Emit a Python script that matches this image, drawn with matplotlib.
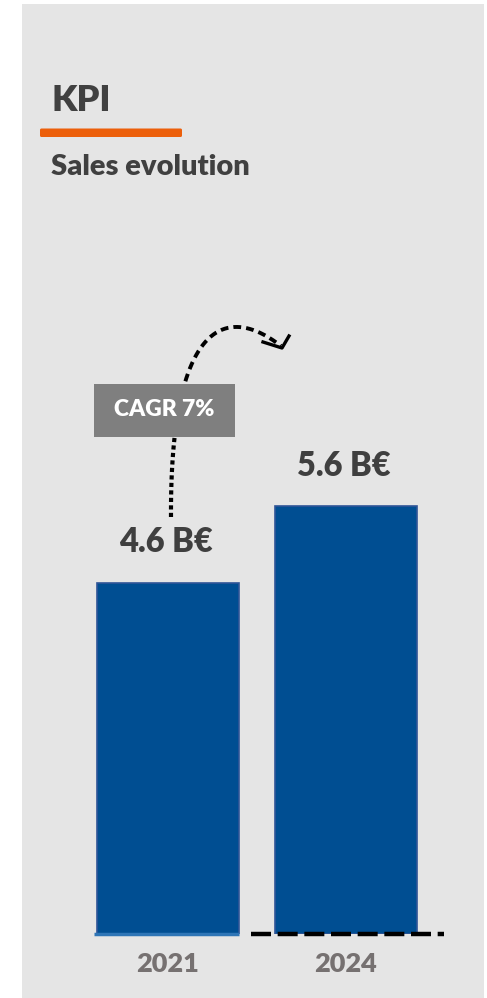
import numpy as np
import matplotlib.pyplot as plt
from matplotlib.patches import Rectangle, FancyBboxPatch

plt.rcParams['font.family'] = ['Lato', 'DejaVu Sans']
GRAS = 'heavy'

# Données
annees = ["2021", "2024"]
ventes = [4.6, 5.6]          # en milliards d'euros
cagr = 7                     # en %

W, H = 487, 998
fig = plt.figure(figsize=(W / 100, H / 100), dpi=100, facecolor='white')

# Calque de décor en coordonnées pixels (origine en haut à gauche)
deco = fig.add_axes([0, 0, 1, 1], zorder=0)
deco.set_xlim(0, W)
deco.set_ylim(H, 0)
deco.axis('off')

deco.add_patch(Rectangle((22, 4), 462, 994, color='#e5e5e5', lw=0))
deco.text(51, 111, "KPI", fontsize=26, fontweight=GRAS, color='#404040', va='baseline')
deco.add_patch(FancyBboxPatch((40, 128.5), 142, 8.5, boxstyle="round,pad=0,rounding_size=1.5",
                              color='#ec5f0b', lw=0))
deco.text(51, 175, "Sales evolution", fontsize=21, fontweight=GRAS, color='#404040', va='baseline')

# Flèche courbe en pointillés (Bézier cubique)
p0, p1, p2, p3 = map(np.array, [(171, 517), (170, 330), (222, 300), (281, 346)])
t = np.linspace(0, 1, 200)[:, None]
courbe = ((1 - t) ** 3) * p0 + 3 * ((1 - t) ** 2) * t * p1 + 3 * (1 - t) * t ** 2 * p2 + t ** 3 * p3
bas = courbe[:, 1] > 420
deco.plot(courbe[bas, 0], courbe[bas, 1], color='black', lw=3, ls=(0, (1, 0.8)), solid_capstyle='butt')
deco.plot(courbe[~bas, 0], courbe[~bas, 1], color='black', lw=2.8, ls=(0, (2, 1.3)))
deco.plot([263, 282, 289], [342, 348, 336], color='black', lw=2.4)

# Encadré CAGR
deco.add_patch(Rectangle((94, 384), 141, 53, color='#7f7f7f', lw=0, zorder=3))
deco.text(164, 410, f"CAGR {cagr}%", fontsize=16.5, fontweight=GRAS, color='white',
          ha='center', va='center', zorder=4)

# Histogramme
base_px, echelle = 933.5, 76.3
ax = fig.add_axes([79.25 / W, (H - base_px) / H, 355 / W, 6 * echelle / H], zorder=1)
ax.set_facecolor('none')
x = np.arange(len(annees))
ax.bar(x, ventes, width=0.8, color='#004e92', edgecolor='#2f5597', linewidth=1.2)
ax.set_xlim(-0.5, 1.5)
ax.set_ylim(0, 6)

for xi, v in zip(x, ventes):
    ax.annotate(f"{v} B€", (xi, v), xytext=(-1.5, 29), textcoords='offset points',
                ha='center', va='center', fontsize=23.5, fontweight=GRAS, color='#3f3f3f')

# Ligne de base : pleine sous 2021, tiretée sous 2024
ax.plot([-0.417, 0.40], [0, 0], color='#2e75b6', lw=2.5, clip_on=False, solid_capstyle='butt')
ax.plot([0.468, 1.555], [0, 0], color='black', lw=3.2, ls=(0, (4.5, 1.5)), clip_on=False)

ax.set_xticks(x, annees)
ax.tick_params(axis='x', length=0, pad=13, labelsize=19.5, labelcolor='#767171')
for lab in ax.get_xticklabels():
    lab.set_fontweight(GRAS)
ax.set_yticks([])
for s in ax.spines.values():
    s.set_visible(False)

fig.savefig("out.png", dpi=100, facecolor='white')
